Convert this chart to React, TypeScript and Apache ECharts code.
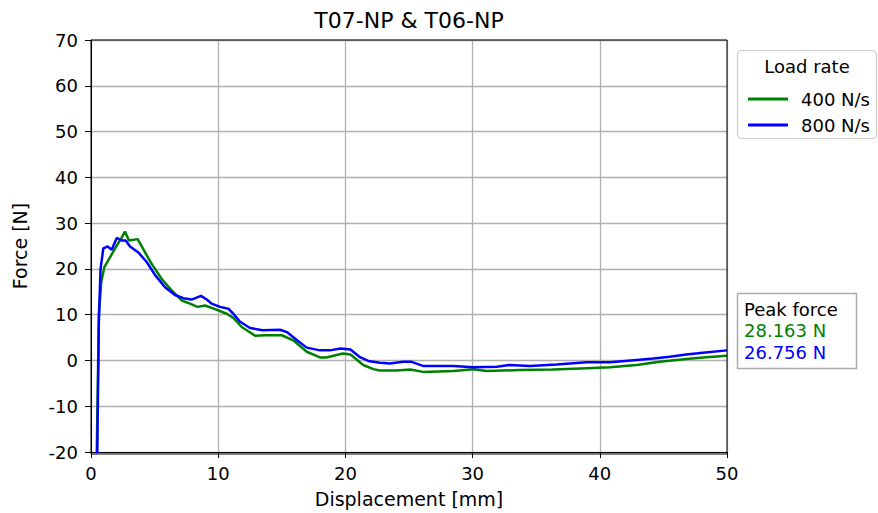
import React, { useEffect, useRef } from "react";
import * as echarts from "echarts";

const titleText = "T07-NP & T06-NP";
const xName = "Displacement [mm]";
const yName = "Force [N]";
const legendTitle = "Load rate";
const seriesNames = ["400 N/s", "800 N/s"];
const peakLabel = "Peak force";
const peakValues = ["28.163 N", "26.756 N"];
const colors = ["#008000", "#0000ff"];

const green400: [number, number][] = [
  [0.4, -30], [0.62, 10], [0.8, 17], [1.05, 20.4], [1.49, 22.5], [2.02, 25.1], [2.35, 26.5],
  [2.67, 28.163], [2.99, 26.2], [3.67, 26.5], [4.25, 23.6], [4.77, 21.1], [5.56, 17.8],
  [6.34, 15.3], [7.13, 13.1], [7.78, 12.4], [8.38, 11.7], [8.96, 12.0], [9.75, 11.2],
  [10.67, 10.2], [11.19, 9.3], [11.85, 7.3], [12.9, 5.4], [13.68, 5.5], [15.0, 5.5],
  [15.9, 4.4], [16.96, 1.9], [18.0, 0.65], [18.5, 0.65], [19.8, 1.5], [20.4, 1.3],
  [21.4, -1.0], [22.2, -1.9], [22.7, -2.2], [24.0, -2.2], [25.1, -2.0], [26.1, -2.5],
  [28.5, -2.3], [30.05, -1.9], [31.1, -2.3], [33.7, -2.1], [36.3, -2.0], [38.97, -1.7],
  [40.8, -1.5], [42.9, -1.0], [44.7, -0.3], [46.8, 0.3], [48.1, 0.65], [50, 1.0],
];

const blue800: [number, number][] = [
  [0.45, -30], [0.62, 9], [0.75, 20], [0.97, 24.5], [1.31, 24.9], [1.63, 24.2], [2.02, 26.756],
  [2.41, 26.2], [2.73, 26.2], [3.07, 24.9], [3.72, 23.6], [4.38, 21.5], [5.03, 18.7],
  [5.82, 16.0], [6.6, 14.3], [7.26, 13.6], [7.91, 13.3], [8.65, 14.1], [9.1, 13.3],
  [9.49, 12.4], [10.14, 11.7], [10.8, 11.3], [11.19, 10.2], [11.7, 8.5], [12.5, 7.1],
  [13.5, 6.6], [14.86, 6.7], [15.4, 6.2], [16.2, 4.4], [16.96, 2.8], [18.0, 2.2],
  [18.8, 2.2], [19.6, 2.6], [20.4, 2.4], [21.1, 0.8], [21.8, -0.1], [22.7, -0.5],
  [23.5, -0.65], [24.55, -0.3], [25.2, -0.3], [26.1, -1.2], [28.5, -1.2], [30.05, -1.5],
  [31.9, -1.4], [32.9, -1.0], [34.5, -1.2], [36.6, -0.9], [38.97, -0.4], [40.8, -0.4],
  [42.9, 0.1], [44.2, 0.4], [45.5, 0.8], [46.8, 1.3], [48.1, 1.7], [50, 2.2],
];

const W = 878;
const H = 513;
const G = { left: 91, top: 40, width: 636, height: 414 };
const FONT = "DejaVu Sans";

export default function App() {
  const ref = useRef<HTMLDivElement>(null);
  useEffect(() => {
    if (!ref.current) return;
    const chart = echarts.init(ref.current, null, { renderer: "svg" });
    chart.setOption({
      animation: false,
      backgroundColor: "#fff",
      textStyle: { fontFamily: FONT },
      grid: { left: G.left, top: G.top, width: G.width, height: G.height, containLabel: false },
      xAxis: {
        type: "value",
        min: 0,
        max: 50,
        interval: 10,
        name: xName,
        nameLocation: "middle",
        nameGap: 37,
        nameTextStyle: { fontSize: 19, color: "#000", fontFamily: FONT },
        axisLine: { show: true, onZero: false, lineStyle: { color: "#000", width: 1 } },
        axisTick: { show: true, length: 6, lineStyle: { color: "#000" } },
        axisLabel: { fontSize: 18, color: "#000", margin: 12, fontFamily: FONT },
        splitLine: { show: true, lineStyle: { color: "#b0b0b0", width: 1.3 } },
      },
      yAxis: {
        type: "value",
        min: -20,
        max: 70,
        interval: 10,
        name: yName,
        nameLocation: "middle",
        nameGap: 62,
        nameTextStyle: { fontSize: 19, color: "#000", fontFamily: FONT },
        axisLine: { show: true, onZero: false, lineStyle: { color: "#000", width: 1 } },
        axisTick: { show: true, length: 6, lineStyle: { color: "#000" } },
        axisLabel: { fontSize: 18, color: "#000", margin: 13, fontFamily: FONT },
        splitLine: { show: true, lineStyle: { color: "#b0b0b0", width: 1.3 } },
      },
      legend: {
        orient: "vertical",
        left: 743,
        top: 85,
        icon: "rect",
        itemWidth: 40,
        itemHeight: 3,
        itemGap: 8,
        data: seriesNames,
        textStyle: { fontSize: 18, color: "#000", fontFamily: FONT, padding: [0, 0, 0, 8], lineHeight: 18 },
      },
      graphic: [
        {
          type: "text",
          x: G.left + G.width / 2,
          y: 20,
          style: { text: titleText, fill: "#000", font: `22px '${FONT}'`, align: "center", verticalAlign: "middle" },
        },
        {
          type: "rect",
          z: 50,
          silent: true,
          shape: { x: G.left, y: G.top, width: G.width, height: G.height },
          style: { fill: "none", stroke: "#000", lineWidth: 1 },
        },
        {
          type: "rect",
          z: 1,
          shape: { x: 737.5, y: 50.5, width: 139, height: 88, r: 4 },
          style: { fill: "#fff", stroke: "#cccccc", lineWidth: 1.2 },
        },
        {
          type: "text",
          z: 2,
          x: 807,
          y: 66,
          style: { text: legendTitle, fill: "#000", font: `18px '${FONT}'`, align: "center", verticalAlign: "middle" },
        },
        {
          type: "rect",
          z: 1,
          shape: { x: 737.5, y: 293.5, width: 119, height: 75 },
          style: { fill: "#fff", stroke: "#aaaaaa", lineWidth: 1.5 },
        },
        {
          type: "text",
          z: 2,
          x: 744,
          y: 309,
          style: { text: peakLabel, fill: "#000", font: `18px '${FONT}'`, align: "left", verticalAlign: "middle" },
        },
        {
          type: "text",
          z: 2,
          x: 744,
          y: 330,
          style: { text: peakValues[0], fill: colors[0], font: `18px '${FONT}'`, align: "left", verticalAlign: "middle" },
        },
        {
          type: "text",
          z: 2,
          x: 744,
          y: 352,
          style: { text: peakValues[1], fill: colors[1], font: `18px '${FONT}'`, align: "left", verticalAlign: "middle" },
        },
      ],
      series: [
        {
          name: seriesNames[0],
          type: "line",
          data: green400,
          symbol: "none",
          clip: true,
          z: 3,
          lineStyle: { color: colors[0], width: 2.5 },
          itemStyle: { color: colors[0] },
        },
        {
          name: seriesNames[1],
          type: "line",
          data: blue800,
          symbol: "none",
          clip: true,
          z: 4,
          lineStyle: { color: colors[1], width: 2.5 },
          itemStyle: { color: colors[1] },
        },
      ],
    });
    return () => chart.dispose();
  }, []);
  return (
    <div
      ref={ref}
      style={{ position: "fixed", left: 0, top: 0, width: W, height: H, background: "#fff" }}
    />
  );
}
